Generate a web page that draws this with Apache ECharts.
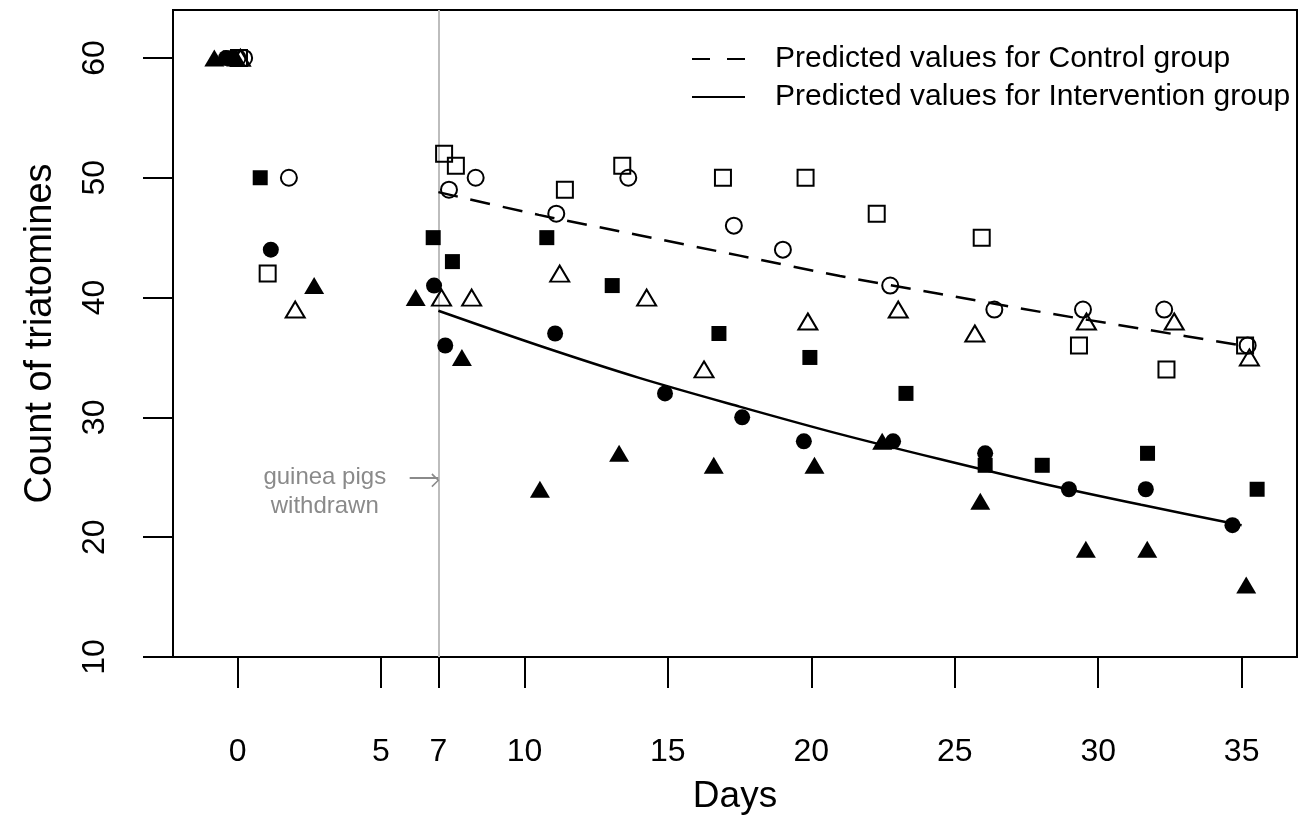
<!DOCTYPE html>
<html>
<head>
<meta charset="utf-8">
<script src="https://cdn.jsdelivr.net/npm/echarts@6/dist/echarts.min.js"></script>
<style>
html,body{margin:0;padding:0;background:#fff;}
#chart{width:1304px;height:821px;}
</style>
</head>
<body>
<div id="chart"></div>
<script>
// ---- data ----
const xTicks = [0, 5, 7, 10, 15, 20, 25, 30, 35];
const yTicks = [10, 20, 30, 40, 50, 60];

const predDays = [7, 10.5, 14, 17.5, 21, 24.5, 28, 31.5, 35];
const controlPred = [48.8, 46.9, 45.2, 43.5, 41.8, 40.3, 38.8, 37.4, 36.0];
const interventionPred = [38.9, 36.0, 33.3, 30.9, 28.6, 26.5, 24.5, 22.7, 21.0];

const filledSquare = [[-0.25,60],[0.79,50],[6.82,45],[7.49,43],[10.78,45],[13.06,41],[16.78,37],[19.95,35],[23.3,32],[26.06,26],[28.05,26],[31.72,27],[35.54,24]];
const filledCircle = [[-0.4,60],[1.16,44],[6.85,41],[7.24,36],[11.07,37],[14.9,32],[17.59,30],[19.74,28],[22.85,28],[26.06,27],[28.98,24],[31.66,24],[34.68,21]];
const filledTriangle = [[-0.81,60],[-0.05,60],[2.67,41],[6.21,40],[7.82,35],[10.54,24],[13.3,27],[16.6,26],[20.11,26],[22.47,28],[25.89,23],[29.57,19],[31.71,19],[35.16,16]];
const openSquare = [[0.05,60],[1.05,42],[7.2,52],[7.61,51],[11.41,49],[13.41,51],[16.92,50],[19.8,50],[22.28,47],[25.94,45],[29.33,36],[32.38,34],[35.12,36]];
const openCircle = [[0.0,60],[0.23,60],[1.79,50],[7.37,49],[8.3,50],[11.11,47],[13.62,50],[17.3,46],[19.01,44],[22.75,41],[26.38,39],[29.47,39],[32.3,39],[35.21,36]];
const openTriangle = [[0.1,60],[2.01,39],[7.11,40],[8.16,40],[11.23,42],[14.26,40],[16.26,34],[19.88,38],[23.03,39],[25.7,37],[29.59,38],[32.65,38],[35.27,35]];

const legendNames = ['Predicted values for Control group', 'Predicted values for Intervention group'];

const withdrawDay = 7;
const annotationText = 'guinea pigs\nwithdrawn';
const annotationPos = [3.04, 23.75];
const arrowFrom = [6.0, 25];
const arrowTo = [7.0, 25];

const FONT = 'Liberation Sans, Arial, Helvetica, sans-serif';

function zip(xs, ys){ return xs.map((x,i)=>[x, ys[i]]); }

const chart = echarts.init(document.getElementById('chart'), null, {renderer:'canvas'});

function filled(name, data, symbol, size){
  return {name, type:'scatter', data, symbol, symbolSize:size,
    itemStyle:{color:'#000', opacity:1}, emphasis:{disabled:true}, z:3};
}
function open(name, data, symbol, size){
  return {name, type:'scatter', data, symbol, symbolSize:size,
    itemStyle:{color:'rgba(0,0,0,0)', borderColor:'#000', borderWidth:2, opacity:1}, emphasis:{disabled:true}, z:3};
}

const option = {
  animation:false,
  backgroundColor:'#fff',
  textStyle:{fontFamily:FONT},
  grid:{left:173, right:7, top:10, bottom:164, show:true, borderColor:'#000', borderWidth:2, backgroundColor:'rgba(0,0,0,0)'},
  legend:{
    left:692, top:44, padding:0, orient:'vertical', itemWidth:53, itemHeight:2.6, itemGap:8,
    data:[
      {name:legendNames[0], icon:'path://M0,0 H18 V2 H0 Z M35,0 H53 V2 H35 Z'},
      {name:legendNames[1], icon:'path://M0,0 H53 V2 H0 Z'}
    ],
    itemStyle:{color:'#000', borderWidth:0},
    textStyle:{fontSize:30, lineHeight:30, color:'#000', fontFamily:FONT, padding:[0,0,0,25]},
    selectedMode:false
  },
  xAxis:{
    type:'value', min:-2.25, max:36.93,
    axisLine:{show:false, onZero:false},
    splitLine:{show:false},
    axisTick:{show:true, customValues:xTicks, length:31, inside:false, lineStyle:{color:'#000', width:2}},
    axisLabel:{show:true, customValues:xTicks, margin:79, fontSize:32, color:'#000', fontFamily:FONT},
    name:'Days', nameLocation:'middle', nameGap:121,
    nameTextStyle:{fontSize:37, color:'#000', fontFamily:FONT}
  },
  yAxis:{
    type:'value', min:10, max:64,
    axisLine:{show:false, onZero:false},
    splitLine:{show:false},
    axisTick:{show:true, customValues:yTicks, length:30, inside:false, lineStyle:{color:'#000', width:2}},
    axisLabel:{show:true, customValues:yTicks, margin:62, rotate:90, fontSize:32, color:'#000', fontFamily:FONT},
    name:'Count of triatomines', nameLocation:'middle', nameGap:113, nameRotate:90,
    nameTextStyle:{fontSize:38, color:'#000', fontFamily:FONT}
  },
  series:[
    {name:legendNames[0], type:'line', data:zip(predDays, controlPred),
      symbol:'none', smooth:0.3, lineStyle:{color:'#000', width:2.5, type:[20,13]}, itemStyle:{color:'#000'}, z:2},
    {name:legendNames[1], type:'line', data:zip(predDays, interventionPred),
      symbol:'none', smooth:0.3, lineStyle:{color:'#000', width:2.5, type:'solid'}, itemStyle:{color:'#000'}, z:2},
    Object.assign(filled('fsq', filledSquare, 'rect', 15), {
      markLine:{
        silent:true, symbol:['none','none'], label:{show:false},
        lineStyle:{color:'#bdbdbd', width:2, type:'solid'},
        data:[{xAxis:withdrawDay}], z:1
      }
    }),
    filled('fci', filledCircle, 'circle', 16),
    filled('ftr', filledTriangle, 'triangle', [20,17]),
    open('osq', openSquare, 'rect', 16),
    open('oci', openCircle, 'circle', 16),
    Object.assign(open('otr', openTriangle, 'triangle', [19,16]), {
      markLine:{
        silent:true, symbol:['none','path://M0,10 L10,0 L20,10 L18,11.5 L10,3 L2,11.5 Z'], symbolSize:[14,8], symbolOffset:[0,3], label:{show:false},
        lineStyle:{color:'#8a8a8a', width:2, type:'solid'},
        data:[[{coord:arrowFrom},{coord:arrowTo}]]
      },
      markPoint:{
        silent:true, symbol:'circle', symbolSize:0,
        label:{show:true, formatter:annotationText, fontSize:24, lineHeight:29, color:'#8a8a8a', fontFamily:FONT, align:'center', verticalAlign:'middle'},
        data:[{coord:annotationPos}]
      }
    })
  ]
};
chart.setOption(option);
</script>
</body>
</html>
